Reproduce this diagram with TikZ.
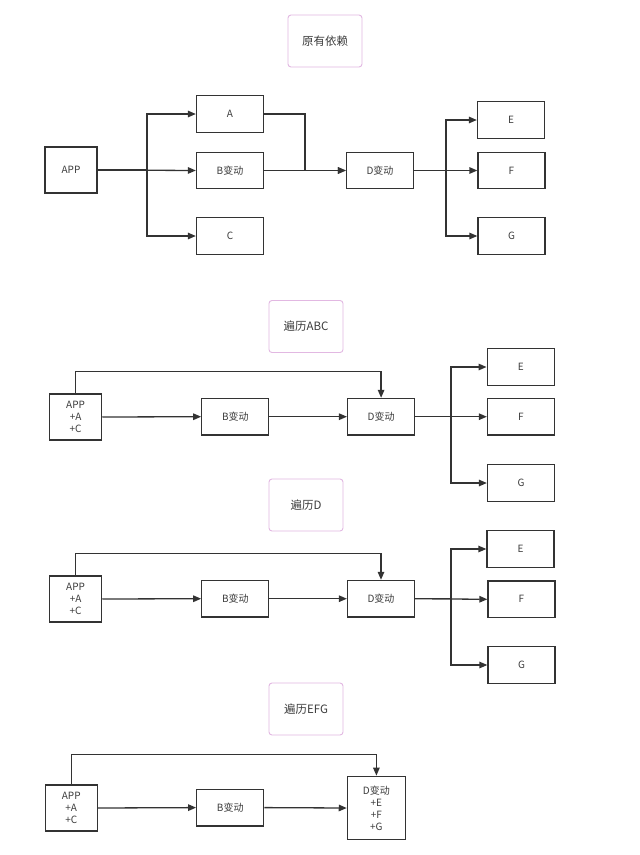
\documentclass[tikz,border=0pt]{standalone}
\usepackage{fontspec}
\setmainfont{Noto Sans CJK SC}
\usetikzlibrary{arrows.meta}
\definecolor{boxline}{RGB}{51,51,51}
\definecolor{txt}{RGB}{60,60,60}
\definecolor{pinkline}{RGB}{226,184,226}
\tikzset{
  box/.style={draw=boxline, line width=1.3pt, rectangle, inner sep=0pt,
    minimum width=67pt, minimum height=36.5pt, text=txt,
    font=\fontsize{10}{12}\selectfont, align=center},
  appbox/.style={box, minimum width=52pt, minimum height=46pt},
  titlebox/.style={draw=pinkline, line width=0.9pt, rounded corners=3pt, inner sep=0pt,
    minimum width=74pt, minimum height=52pt, text=txt,
    font=\fontsize{11.5}{13}\selectfont},
  arr/.style={draw=boxline, line width=1.3pt,
    -{Triangle[length=8pt,width=6.5pt]}},
}
\begin{document}
\begin{tikzpicture}[x=1pt,y=-1pt]
\useasboundingbox (0,0) rectangle (640,855);
\fill[white] (0,0) rectangle (640,855);

% ---------- Section 1 ----------
\node[titlebox] (t1) at (325,41) {原有依赖};
\node[appbox] (app1) at (71,170) {APP};
\node[box] (a1) at (230,114) {A};
\node[box] (b1) at (230,170.5) {B变动};
\node[box] (c1) at (230,236) {C};
\node[box] (d1) at (380,170.5) {D变动};
\node[box] (e1) at (511,120) {E};
\node[box] (f1) at (511.5,170.5) {F};
\node[box] (g1) at (511.5,236) {G};
\coordinate (s1) at (147,170);
\coordinate (m1) at (305,114);
\coordinate (r1) at (446,170.5);
\draw[arr] (app1.east) -- (s1) |- (a1.west);
\draw[arr] (app1.east) -- (b1.west);
\draw[arr] (app1.east) -- (s1) |- (c1.west);
\draw[arr] (a1.east) -- (m1) |- (d1.west);
\draw[arr] (b1.east) -- (d1.west);
\draw[arr] (d1.east) -- (r1) |- (e1.west);
\draw[arr] (d1.east) -- (f1.west);
\draw[arr] (d1.east) -- (r1) |- (g1.west);

% ---------- Section 2 ----------
\node[titlebox] (t2) at (306,326.5) {遍历ABC};
\node[appbox] (app2) at (75.6,417) {APP\\+A\\+C};
\node[box] (b2) at (235.3,416.7) {B变动};
\node[box] (d2) at (381.1,416.7) {D变动};
\node[box] (e2) at (520.7,367) {E};
\node[box] (f2) at (521,416.7) {F};
\node[box] (g2) at (521,483) {G};
\coordinate (u2) at (381.1,371.7);
\coordinate (r2) at (451,416.7);
\draw[arr] (app2.north) |- (u2) -- (d2.north);
\draw[arr] (app2.east) -- (b2.west);
\draw[arr] (b2.east) -- (d2.west);
\draw[arr] (d2.east) -- (r2) |- (e2.west);
\draw[arr] (d2.east) -- (f2.west);
\draw[arr] (d2.east) -- (r2) |- (g2.west);

% ---------- Section 3 ----------
\node[titlebox] (t3) at (306,505) {遍历D};
\node[appbox] (app3) at (75.6,599) {APP\\+A\\+C};
\node[box] (b3) at (235.3,598.7) {B变动};
\node[box] (d3) at (381,598.7) {D变动};
\node[box] (e3) at (520.5,549) {E};
\node[box] (f3) at (521.5,599.3) {F};
\node[box] (g3) at (521.5,665) {G};
\coordinate (u3) at (381,553.7);
\coordinate (r3) at (451,598.7);
\draw[arr] (app3.north) |- (u3) -- (d3.north);
\draw[arr] (app3.east) -- (b3.west);
\draw[arr] (b3.east) -- (d3.west);
\draw[arr] (d3.east) -- (r3) |- (e3.west);
\draw[arr] (d3.east) -- (f3.west);
\draw[arr] (d3.east) -- (r3) |- (g3.west);

% ---------- Section 4 ----------
\node[titlebox] (t4) at (306,709) {遍历EFG};
\node[appbox] (app4) at (71.25,808) {APP\\+A\\+C};
\node[box] (b4) at (230.25,807.6) {B变动};
\node[box, minimum width=58pt, minimum height=63.4pt] (d4) at (376.4,808) {D变动\\+E\\+F\\+G};
\coordinate (u4) at (376.4,754.3);
\draw[arr] (app4.north) |- (u4) -- (d4.north);
\draw[arr] (app4.east) -- (b4.west);
\draw[arr] (b4.east) -- (d4.west);
\end{tikzpicture}
\end{document}
